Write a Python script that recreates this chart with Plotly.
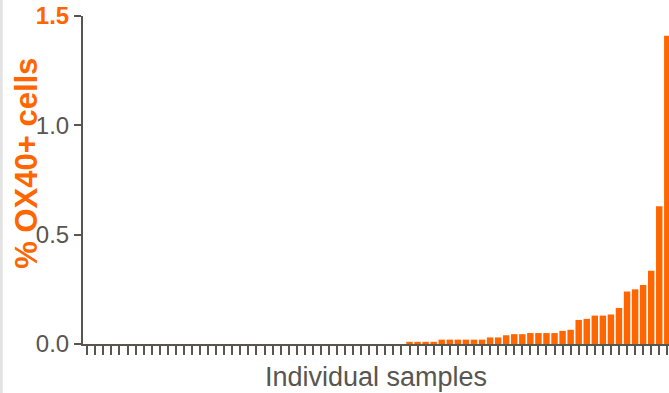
import plotly.graph_objects as go

# Data
sample_index = list(range(73))
ox40_pct = [
    0.0, 0.0, 0.0, 0.0, 0.0, 0.0, 0.0, 0.0, 0.0, 0.0,
    0.0, 0.0, 0.0, 0.0, 0.0, 0.0, 0.0, 0.0, 0.0, 0.0,
    0.0, 0.0, 0.0, 0.0, 0.0, 0.0, 0.0, 0.0, 0.0, 0.0,
    0.0, 0.0, 0.0, 0.0, 0.0, 0.0, 0.0, 0.0, 0.0, 0.0,
    0.01, 0.01, 0.01, 0.01,
    0.02, 0.02, 0.02, 0.02, 0.02, 0.02,
    0.03, 0.03, 0.04, 0.045, 0.045,
    0.05, 0.05, 0.05, 0.05,
    0.06, 0.065, 0.11, 0.115, 0.13, 0.13, 0.135, 0.165,
    0.24, 0.25, 0.27, 0.335, 0.63, 1.41,
]
y_tickvals = [0.0, 0.5, 1.0, 1.5]
y_ticktext = ["0.0", "0.5", "1.0", "<b><span style='color:#FF6600'>1.5</span></b>"]
y_title = "% OX40+ cells"
x_title = "Individual samples"

ORANGE = "#FF6600"
AXIS = "#5a564e"
TEXT = "#59554f"
FONT = "Liberation Sans, Arial, sans-serif"

fig = go.Figure(
    go.Bar(
        x=sample_index,
        y=ox40_pct,
        marker=dict(color=ORANGE, line=dict(width=0)),
        width=0.8,
    )
)

fig.update_layout(
    width=669,
    height=393,
    margin=dict(l=83, r=0, t=16, b=49),
    paper_bgcolor="white",
    plot_bgcolor="white",
    showlegend=False,
    font=dict(family=FONT, color=TEXT),
    bargap=0.2,
)

fig.update_xaxes(
    range=[-0.53, 72.21],
    tickmode="linear",
    tick0=0,
    dtick=1,
    showticklabels=False,
    ticks="outside",
    ticklen=9,
    tickwidth=2,
    tickcolor=AXIS,
    showline=True,
    linecolor=AXIS,
    linewidth=2,
    showgrid=False,
    zeroline=False,
)

fig.update_yaxes(
    range=[0, 1.5],
    tickmode="array",
    tickvals=y_tickvals,
    ticktext=y_ticktext,
    tickfont=dict(size=24, color=TEXT, family=FONT),
    ticks="outside",
    ticklen=7,
    tickwidth=1.5,
    tickcolor=AXIS,
    showline=True,
    linecolor=AXIS,
    linewidth=2,
    showgrid=False,
    zeroline=False,
)

fig.add_annotation(
    text="<b>" + y_title + "</b>",
    xref="paper", yref="paper",
    x=-0.097, y=0.55,
    xanchor="center", yanchor="middle",
    textangle=-90,
    showarrow=False,
    font=dict(size=31, color=ORANGE, family=FONT),
)

fig.add_annotation(
    text=x_title,
    xref="paper", yref="paper",
    x=0.5, y=-0.1,
    xanchor="center", yanchor="middle",
    showarrow=False,
    font=dict(size=27, color=TEXT, family=FONT),
)

fig.add_shape(
    type="rect",
    xref="paper", yref="paper",
    x0=-0.1417, x1=-0.137, y0=-0.15, y1=1.06,
    fillcolor="#e3e3e3",
    line=dict(width=0),
    layer="below",
)

fig.write_html("out.html")
